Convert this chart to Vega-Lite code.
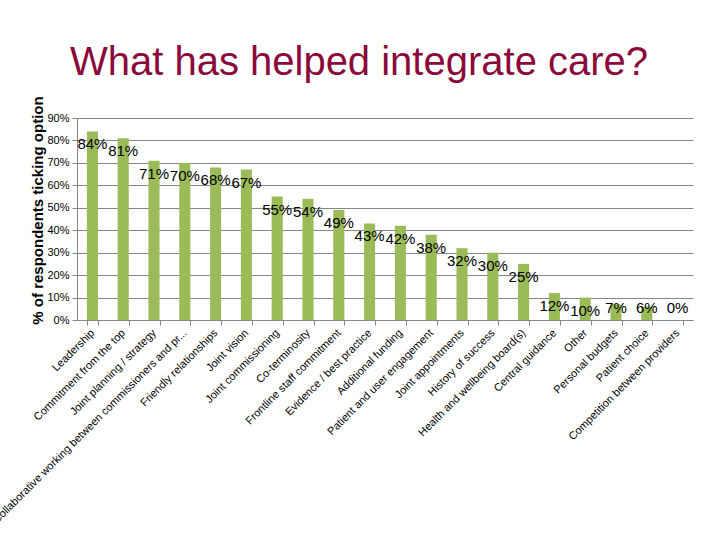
{
  "$schema": "https://vega.github.io/schema/vega-lite/v6.json",
  "width": 616,
  "height": 202,
  "autosize": "none",
  "padding": {"left": 77, "top": 118, "right": 27, "bottom": 220},
  "background": "white",
  "title": {
    "text": "What has helped integrate care?",
    "font": "Liberation Sans",
    "fontSize": 40,
    "fontWeight": "normal",
    "color": "#8B0A3C",
    "anchor": "middle",
    "frame": "group",
    "baseline": "alphabetic",
    "offset": 42,
    "dx": -26,
    "dy": 61
  },
  "data": {
    "values": [
      {"option": "Leadership", "share": 0.84},
      {"option": "Commitment from the top", "share": 0.81},
      {"option": "Joint planning / strategy", "share": 0.71},
      {"option": "Collaborative working between commissioners and pr...", "share": 0.70},
      {"option": "Friendly relationships", "share": 0.68},
      {"option": "Joint vision", "share": 0.67},
      {"option": "Joint commissioning", "share": 0.55},
      {"option": "Co-terminosity", "share": 0.54},
      {"option": "Frontline staff commitment", "share": 0.49},
      {"option": "Evidence / best practice", "share": 0.43},
      {"option": "Additional funding", "share": 0.42},
      {"option": "Patient and user engagement", "share": 0.38},
      {"option": "Joint appointments", "share": 0.32},
      {"option": "History of success", "share": 0.30},
      {"option": "Health and wellbeing board(s)", "share": 0.25},
      {"option": "Central guidance", "share": 0.12},
      {"option": "Other", "share": 0.10},
      {"option": "Personal budgets", "share": 0.07},
      {"option": "Patient choice", "share": 0.06},
      {"option": "Competition between providers", "share": 0.00}
    ]
  },
  "config": {
    "view": {"stroke": null},
    "font": "Liberation Sans",
    "axis": {
      "labelFont": "Liberation Sans",
      "titleFont": "Liberation Sans",
      "labelColor": "black",
      "titleColor": "black",
      "domainColor": "#868686",
      "tickColor": "#868686",
      "gridColor": "#868686",
      "gridOpacity": 1,
      "labelOverlap": false
    },
    "axisY": {
      "format": ".0%",
      "tickCount": 12,
      "labelFontSize": 11,
      "tickSize": 5,
      "labelPadding": 3,
      "titleFontSize": 15,
      "titleFontWeight": "bold",
      "titleX": -40,
      "titleY": 92,
      "titleAlign": "center",
      "titleBaseline": "middle",
      "titleAngle": -90
    }
  },
  "encoding": {
    "x": {
      "field": "option",
      "type": "nominal",
      "sort": null,
      "title": null,
      "scale": {"paddingInner": 0.64, "paddingOuter": 0.32},
      "axis": {
        "labelAngle": -45,
        "labelAlign": "right",
        "labelBaseline": "middle",
        "labelFontSize": 11,
        "labelLimit": 0,
        "labelPadding": 6,
        "tickBand": "extent",
        "tickSize": 5,
        "grid": false
      }
    }
  },
  "layer": [
    {
      "mark": {"type": "bar", "color": "#9BBB59"},
      "encoding": {
        "y": {
          "field": "share",
          "type": "quantitative",
          "title": "% of respondents ticking option",
          "scale": {"domain": [0, 0.9], "nice": false},
          "axis": {"values": [0, 0.1, 0.2, 0.3, 0.4, 0.5, 0.6, 0.7, 0.8, 0.9], "tickCount": 12}
        }
      }
    },
    {
      "transform": [{"filter": "datum.share >= 0.1"}],
      "mark": {"type": "text", "fontSize": 15, "color": "black", "baseline": "middle", "dy": 13},
      "encoding": {
        "y": {
          "field": "share",
          "type": "quantitative",
          "title": "% of respondents ticking option",
          "axis": {"values": [0, 0.1, 0.2, 0.3, 0.4, 0.5, 0.6, 0.7, 0.8, 0.9], "tickCount": 12}
        },
        "text": {"field": "share", "type": "quantitative", "format": ".0%"}
      }
    },
    {
      "transform": [{"filter": "datum.share < 0.1"}],
      "mark": {"type": "text", "fontSize": 15, "color": "black", "baseline": "middle"},
      "encoding": {
        "y": {
          "datum": 0.053,
          "type": "quantitative",
          "title": "% of respondents ticking option",
          "axis": {"values": [0, 0.1, 0.2, 0.3, 0.4, 0.5, 0.6, 0.7, 0.8, 0.9], "tickCount": 12}
        },
        "text": {"field": "share", "type": "quantitative", "format": ".0%"}
      }
    }
  ]
}
